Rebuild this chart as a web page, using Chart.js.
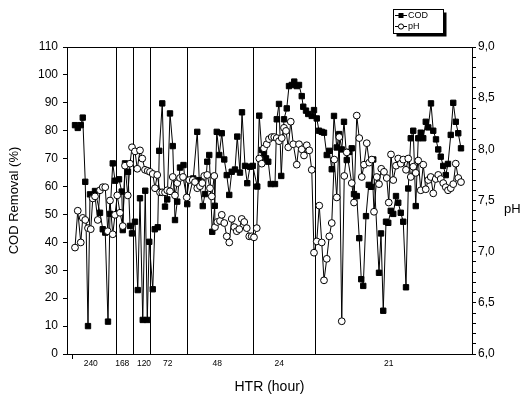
<!DOCTYPE html>
<html>
<head>
    <title>COD removal and pH vs HTR</title>
    <script src="https://cdn.jsdelivr.net/npm/chart.js"></script>
    <style>
        body { margin: 0; padding: 0; background: #fff; }
        #wrap { width: 532px; height: 400px; }
    </style>
</head>
<body>
<div id="wrap"><canvas id="chart" width="532" height="400"></canvas></div>
<script>
    // COD removal (%) - sample day / value
    var codDays = [0.2,1.3,2.5,3.3,4.3,5.4,6.2,8.2,10.2,11.3,
        12.3,13.4,14.2,15.3,16.2,17.8,18.9,19.3,20.2,21.4,
        22.2,23,24.2,25.3,26.2,27.3,28.3,29.1,29.9,31.3,
        32.1,33.3,33.9,35.1,36.2,37.1,38.2,39.3,40.2,41.1,
        42.2,43.6,45.1,47.5,49.1,49.9,51.3,52.2,53.1,53.9,
        55.1,56.1,56.9,57.9,58.9,59.9,60.9,61.9,62.9,64.2,
        65.1,66.2,67,68.2,69.1,70.2,71.3,73.1,73.9,74.9,
        75.8,76.6,77.5,78.5,80.2,80.9,81.8,82.7,83.8,84.9,
        85.8,86.9,87.9,88.9,89.8,90.9,91.5,92.6,93.5,94.9,
        95.8,96.9,97.8,98.9,99.8,100.9,101.9,102.9,103.8,104.9,
        105.9,106.9,107.8,108.9,109.9,110.9,111.8,112.9,113.9,114.7,
        115.5,116.6,117.7,118.6,119.5,121.8,122.6,123.5,124.6,125.5,
        126.5,127.5,128.6,129.5,130.5,131.5,132.6,133.5,134.5,135.5,
        136.5,137.5,138.5,139.5,140.5,141.5,142.6,143.5,144.6,145.5,
        146.5,147.5,148.5,149.4,150.5,151.5,152.5,153.5,154.6];
    var codVals = [82,81,82,84.7,61.7,10,57.2,58.4,50.6,44.7,
        43.5,11.6,50.2,68.3,62.1,62.6,58.2,44.4,68.3,65.3,
        45.9,43.2,47.4,22.9,55.8,12.2,58.5,12.2,40.2,23.2,
        44.7,45.4,72.8,89.8,52.8,55.4,86.2,74.5,48,54.6,
        66.8,67.7,53.7,62.9,79.6,62.3,53,57.3,68.9,71.3,
        43.8,53.1,79.6,71.3,79.1,69.7,64.1,57,65.3,66.1,
        77.9,65,86.6,67.4,61.2,67.1,67.4,60,85.4,73.1,
        71.9,70.1,68.9,60.9,60.9,84.1,89.6,63.8,84.1,88,
        96,96.4,97.6,96,96.4,92.4,88.6,87.2,86,85.3,
        87.4,84.4,80,79.6,79.3,71.3,72.8,66.2,85.3,74,
        78.8,73.3,83.2,69.5,72.4,73.7,57.3,56.6,41.5,26.8,
        24.4,49.4,60.6,59.9,69.7,29.1,43.2,15.5,47.4,47,
        51.3,50.2,56.6,54.2,50.6,47.4,23.9,59.3,77.3,80,
        53,77.3,79.3,77.3,83.2,81.2,89.8,80,76.9,73.3,
        70.7,67.4,64.1,68.1,78.5,90,83.2,79.1,73.7];

    // pH
    var phDays = [0.2,1.3,2.5,3.3,4.3,5.4,6.5,7.3,8.2,9.3,
        10.2,11.3,12.3,13.3,14.2,15.3,16.2,17.1,18.2,19.3,
        20.2,21.3,22.2,23,24.2,25.1,26.2,27.1,28.2,29.3,
        30.2,31.3,32.2,33.1,34.2,35.1,36.2,37.1,38.2,39.3,
        40.2,41.1,42.2,43.4,44.9,45.9,47.3,48.2,49.1,50.2,
        51.1,51.9,53.1,54.2,54.9,55.9,56.2,57.1,58.2,58.9,
        59.9,60.9,61.9,62.9,63.9,64.9,65.9,66.9,67.9,68.9,
        69.9,70.9,71.8,72.9,73.9,74.9,75.8,76.9,77.8,78.9,
        79.9,80.9,81.8,82.9,83.8,84.6,85.5,86.5,87.5,88.9,
        89.8,90.9,91.8,92.9,93.9,94.9,95.8,96.9,97.9,98.9,
        99.8,100.9,101.9,102.9,103.9,104.9,105.9,106.9,107.9,108.9,
        110.9,111.8,112.9,113.9,114.9,115.8,116.9,117.9,118.9,119.8,
        120.9,121.8,122.7,123.8,124.9,125.7,126.6,127.5,128.6,129.5,
        130.5,131.5,132.6,133.5,134.5,135.5,136.5,137.5,138.5,139.5,
        140.5,141.5,142.5,143.5,144.5,145.5,146.5,147.5,148.5,149.4,
        150.5,151.5,152.5,153.5,154.6];
    var phVals = [7.04,7.40,7.09,7.33,7.31,7.23,7.22,7.52,7.54,7.31,
        7.60,7.63,7.63,7.20,7.50,7.17,7.36,7.55,7.38,7.25,
        7.84,7.55,7.86,8.02,7.98,7.81,7.99,7.91,7.80,7.79,
        7.78,7.76,7.62,7.75,7.58,7.58,7.58,7.60,7.59,7.73,
        7.55,7.67,7.72,7.73,7.53,7.70,7.70,7.68,7.62,7.64,
        7.67,7.74,7.75,7.62,7.54,7.74,7.24,7.29,7.30,7.36,
        7.28,7.15,7.09,7.32,7.24,7.20,7.22,7.32,7.29,7.23,
        7.15,7.15,7.14,7.23,7.91,7.86,8.01,8.05,8.10,8.12,
        8.12,8.11,8.08,8.11,8.21,8.18,8.02,8.27,8.05,7.85,
        8.05,8.00,7.94,8.04,7.99,7.80,6.99,7.10,7.45,7.09,
        6.72,6.93,7.15,7.28,7.90,7.53,8.12,6.32,7.74,7.97,
        7.67,7.48,8.33,8.11,7.73,7.85,8.06,7.87,7.90,7.39,
        7.73,7.66,7.81,7.78,7.72,7.48,7.95,7.70,7.84,7.91,
        7.86,7.90,7.80,7.91,7.73,7.83,7.77,7.89,7.60,7.85,
        7.61,7.70,7.73,7.57,7.71,7.75,7.71,7.67,7.63,7.60,
        7.62,7.66,7.86,7.72,7.68];

    // HTR periods: boundaries between them and where their labels sit
    var periodBounds = [16.6, 23.4, 30.2, 45, 71.4, 96.2];
    var periodCenters = [6.5, 19.1, 27.8, 37.3, 57.1, 81.9, 125.7];
    var periodLabels = ['240', '168', '120', '72', '48', '24', '21'];

    function toPoints(xs, ys) {
        return xs.map(function (x, i) { return {x: x, y: ys[i]}; });
    }

    var FONT = '"Liberation Sans", Arial, sans-serif';

    // vertical period lines, top frame, pH title and the boxed legend
    var decor = {
        id: 'decor',
        beforeDatasetsDraw: function (chart) {
            var ctx = chart.ctx, a = chart.chartArea, x = chart.scales.x;
            ctx.save();
            ctx.strokeStyle = '#000';
            ctx.lineWidth = 1;
            periodBounds.forEach(function (b) {
                var px = Math.round(x.getPixelForValue(b)) + 0.5;
                ctx.beginPath();
                ctx.moveTo(px, a.top);
                ctx.lineTo(px, a.bottom);
                ctx.stroke();
            });
            ctx.restore();
        },
        afterDraw: function (chart) {
            var ctx = chart.ctx, a = chart.chartArea, x = chart.scales.x;
            ctx.save();
            ctx.strokeStyle = '#000';
            ctx.lineWidth = 1;
            // top frame
            ctx.beginPath();
            ctx.moveTo(a.left, Math.round(a.top) + 0.5);
            ctx.lineTo(a.right, Math.round(a.top) + 0.5);
            ctx.stroke();
            // small tick on the x axis
            var tx = Math.round(x.getPixelForValue(-1)) + 0.5;
            ctx.beginPath();
            ctx.moveTo(tx, a.bottom);
            ctx.lineTo(tx, a.bottom + 5);
            ctx.stroke();

            // right axis title, horizontal
            ctx.fillStyle = '#000';
            ctx.font = '13px ' + FONT;
            ctx.textAlign = 'left';
            ctx.textBaseline = 'middle';
            ctx.fillText('pH', 504, 209);

            // legend box with shadow
            var lx = 393.5, ly = 9.5, lw = 50, lh = 24;
            ctx.fillRect(lx + 3, ly + 3, lw, lh);
            ctx.fillStyle = '#fff';
            ctx.fillRect(lx, ly, lw, lh);
            ctx.strokeRect(lx, ly, lw, lh);
            ctx.font = '9px ' + FONT;
            var rows = [{t: 'COD', y: 15.5, sq: true}, {t: 'pH', y: 26.5, sq: false}];
            rows.forEach(function (r) {
                ctx.strokeStyle = '#000';
                ctx.beginPath();
                ctx.moveTo(395, r.y);
                ctx.lineTo(407, r.y);
                ctx.stroke();
                if (r.sq) {
                    ctx.fillStyle = '#000';
                    ctx.fillRect(398.5, r.y - 2.5, 5, 5);
                } else {
                    ctx.fillStyle = '#fff';
                    ctx.beginPath();
                    ctx.arc(401, r.y, 2.6, 0, Math.PI * 2);
                    ctx.fill();
                    ctx.stroke();
                }
                ctx.fillStyle = '#000';
                ctx.fillText(r.t, 408, r.y + 0.5);
            });
            ctx.restore();
        }
    };

    var ctx = document.getElementById('chart').getContext('2d');
    new Chart(ctx, {
        type: 'line',
        data: {
            datasets: [{
                label: 'COD',
                data: toPoints(codDays, codVals),
                yAxisID: 'y',
                borderColor: '#000',
                borderWidth: 1,
                backgroundColor: '#000',
                pointStyle: 'rect',
                pointRadius: 3.8,
                pointBorderWidth: 1,
                tension: 0,
                order: 1
            }, {
                label: 'pH',
                data: toPoints(phDays, phVals),
                yAxisID: 'y2',
                borderColor: '#000',
                borderWidth: 1,
                backgroundColor: '#fff',
                pointStyle: 'circle',
                pointRadius: 3.4,
                pointBorderWidth: 1,
                tension: 0,
                order: 0
            }]
        },
        options: {
            responsive: false,
            animation: false,
            layout: {padding: {top: 47, left: 0, right: 0, bottom: 0}},
            plugins: {legend: {display: false}, tooltip: {enabled: false}},
            scales: {
                x: {
                    type: 'linear',
                    min: -3,
                    max: 159,
                    afterBuildTicks: function (s) {
                        s.ticks = periodCenters.map(function (v) { return {value: v}; });
                    },
                    afterFit: function (s) { s.height = 46; },
                    ticks: {
                        autoSkip: false,
                        maxRotation: 0,
                        padding: 5,
                        color: '#000',
                        font: {family: FONT, size: 8.5},
                        callback: function (v, i) { return periodLabels[i]; }
                    },
                    grid: {drawOnChartArea: false, drawTicks: false, color: '#000'},
                    border: {display: true, color: '#000', width: 1},
                    title: {
                        display: true,
                        text: 'HTR (hour)',
                        color: '#000',
                        font: {family: FONT, size: 14},
                        padding: {top: 0, bottom: 4}
                    }
                },
                y: {
                    position: 'left',
                    min: 0,
                    max: 110,
                    afterFit: function (s) { s.width = 67; },
                    ticks: {
                        stepSize: 10,
                        padding: 5,
                        color: '#000',
                        font: {family: FONT, size: 12}
                    },
                    grid: {drawOnChartArea: false, tickLength: 4, color: '#000'},
                    border: {display: true, color: '#000', width: 1},
                    title: {
                        display: true,
                        text: 'COD Removal (%)',
                        color: '#000',
                        font: {family: FONT, size: 13},
                        padding: {top: 7, bottom: 0}
                    }
                },
                y2: {
                    position: 'right',
                    min: 6,
                    max: 9,
                    afterFit: function (s) { s.width = 60; },
                    ticks: {
                        stepSize: 0.1,
                        autoSkip: false,
                        padding: 2,
                        color: '#000',
                        font: {family: FONT, size: 12},
                        callback: function (v) {
                            var t = Math.round(v * 10);
                            return t % 5 === 0 ? (t / 10).toFixed(1).replace('.', ',') : '';
                        }
                    },
                    grid: {drawOnChartArea: false, tickLength: 4, color: '#000'},
                    border: {display: true, color: '#000', width: 1}
                }
            }
        },
        plugins: [decor]
    });
</script>
</body>
</html>
